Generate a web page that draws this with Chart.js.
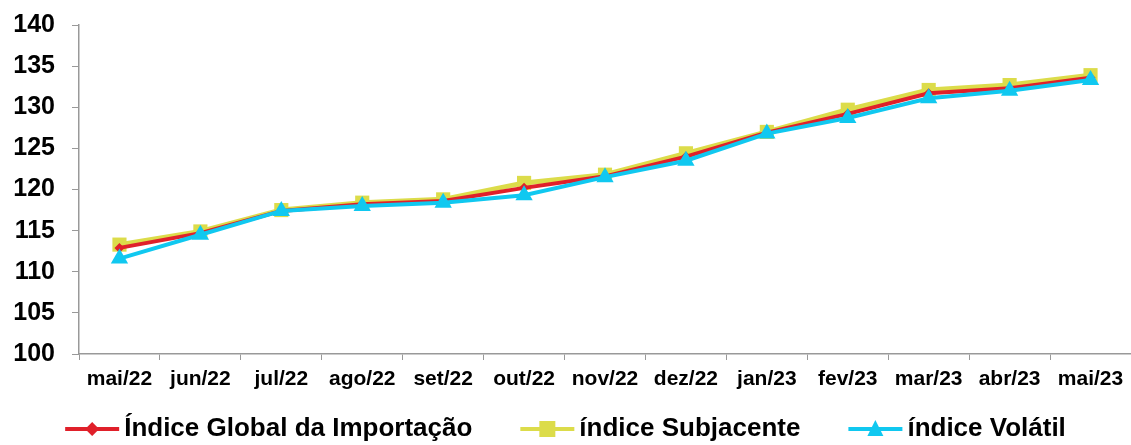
<!DOCTYPE html>
<html>
<head>
<meta charset="utf-8">
<script src="https://cdn.jsdelivr.net/npm/chart.js@4/dist/chart.umd.min.js"></script>
<style>
  html, body { margin: 0; padding: 0; background: #fff; overflow: hidden; }
  #wrap { width: 1131px; height: 445px; }
</style>
</head>
<body>
<div id="wrap"><canvas id="importChart"></canvas></div>
<script>
const months = ['mai/22', 'jun/22', 'jul/22', 'ago/22', 'set/22', 'out/22', 'nov/22',
  'dez/22', 'jan/23', 'fev/23', 'mar/23', 'abr/23', 'mai/23'];
const indiceGlobal = [112.9, 114.7, 117.4, 118.2, 118.6, 120.2, 121.6, 124.0, 126.9, 129.2, 131.7, 132.3, 133.6];
const indiceSubjacente = [113.3, 114.9, 117.5, 118.4, 118.8, 120.8, 121.8, 124.4, 127.0, 129.7, 132.1, 132.7, 133.9];
const indiceVolatil = [111.6, 114.5, 117.4, 118.0, 118.4, 119.3, 121.5, 123.5, 126.8, 128.7, 131.1, 132.0, 133.3];

const RED = '#e0202a', YELLOW = '#dcdc4a', BLUE = '#10c8f0';
const FONT = 'Liberation Sans, Arial, sans-serif';

// legend: short line + marker, then label, items centred in one row
const lineLegend = {
  id: 'lineLegend',
  afterDraw(chart) {
    const g = chart.ctx;
    const lineLen = 54, textGap = 5, itemGap = 48, y = 429;
    g.save();
    g.font = 'bold 26px ' + FONT;
    g.textBaseline = 'middle';
    const items = chart.data.datasets.map(ds => ({ ds, w: g.measureText(ds.label).width }));
    const total = items.reduce((s, it) => s + lineLen + textGap + it.w, 0) + itemGap * (items.length - 1);
    let x = (chart.width - total) / 2;
    items.forEach(({ ds, w }) => {
      const c = ds.borderColor, mx = x + lineLen / 2;
      g.strokeStyle = c; g.fillStyle = c; g.lineWidth = 4;
      g.beginPath(); g.moveTo(x, y); g.lineTo(x + lineLen, y); g.stroke();
      g.beginPath();
      if (ds.pointStyle === 'rectRot') {
        g.moveTo(mx, y - 7); g.lineTo(mx + 7, y); g.lineTo(mx, y + 7); g.lineTo(mx - 7, y);
      } else if (ds.pointStyle === 'rect') {
        g.rect(mx - 8, y - 8, 16, 16);
      } else {
        g.moveTo(mx, y - 9); g.lineTo(mx + 8, y + 7); g.lineTo(mx - 8, y + 7);
      }
      g.closePath(); g.fill();
      g.fillStyle = '#000';
      g.fillText(ds.label, x + lineLen + textGap, y);
      x += lineLen + textGap + w + itemGap;
    });
    g.restore();
  }
};

const ctx = document.getElementById('importChart').getContext('2d');
new Chart(ctx, {
  type: 'line',
  data: {
    labels: months,
    datasets: [
      { label: 'Índice Global da Importação', data: indiceGlobal, borderColor: RED, backgroundColor: RED,
        borderWidth: 4, pointStyle: 'rectRot', pointRadius: 5, pointBorderWidth: 0, order: 1, tension: 0 },
      { label: 'índice Subjacente', data: indiceSubjacente, borderColor: YELLOW, backgroundColor: YELLOW,
        borderWidth: 5, pointStyle: 'rect', pointRadius: 10, pointBorderWidth: 0, order: 2, tension: 0 },
      { label: 'índice Volátil', data: indiceVolatil, borderColor: BLUE, backgroundColor: BLUE,
        borderWidth: 4, pointStyle: 'triangle', pointRadius: 10, pointBorderWidth: 0, order: 0, tension: 0 }
    ]
  },
  options: {
    responsive: true,
    maintainAspectRatio: false,
    animation: false,
    layout: { autoPadding: false, padding: { top: 25, right: 0, left: 0, bottom: 51 } },
    plugins: {
      tooltip: { enabled: false },
      legend: { display: false }
    },
    scales: {
      x: {
        offset: true,
        grid: { offset: true, drawOnChartArea: false, tickLength: 6, color: '#999' },
        border: { color: '#999', width: 1.5 },
        ticks: { color: '#000', maxRotation: 0, autoSkip: false, padding: 7,
          font: { family: FONT, size: 21, weight: 'bold' } },
        afterFit: s => { s.height = 40; s.paddingLeft = 0; s.paddingRight = 0; }
      },
      y: {
        min: 100, max: 140,
        ticks: { stepSize: 5, autoSkip: false, color: '#000', padding: 17,
          font: { family: FONT, size: 25, weight: 'bold' } },
        grid: { drawOnChartArea: false, tickLength: 7, color: '#999' },
        border: { color: '#999', width: 1.5 },
        afterFit: s => { s.width = 79; s.paddingTop = 0; s.paddingBottom = 0; }
      }
    }
  },
  plugins: [lineLegend]
});
</script>
</body>
</html>
